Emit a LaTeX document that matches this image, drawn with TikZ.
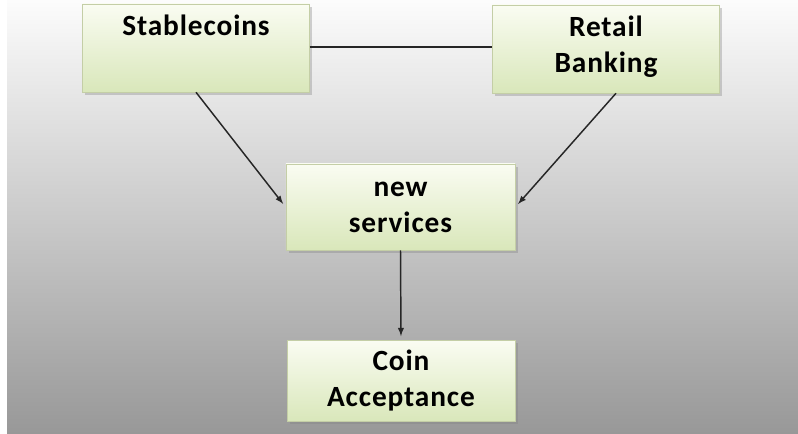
\documentclass[tikz,border=0pt]{standalone}
\usepackage{fontspec}
\setmainfont{Carlito}[LetterSpace=3]
\usetikzlibrary{shadows}

\definecolor{boxtop}{RGB}{250,252,242}
\definecolor{boxbottom}{RGB}{217,231,186}
\definecolor{boxline}{RGB}{196,206,166}
\definecolor{bgtop}{RGB}{252,252,252}
\definecolor{bgmid}{RGB}{230,230,230}
\definecolor{bgbottom}{RGB}{152,152,152}
\def\boxfont{\fontsize{22}{27}\selectfont\bfseries}
\tikzstyle{topic}=[draw=boxline,rectangle,top color=boxtop,bottom color=boxbottom,
                  drop shadow={shadow xshift=2pt,shadow yshift=-2pt,opacity=0.35},
                  text=black,font=\boxfont,align=center,
                  minimum width=170pt,inner sep=0pt]
\tikzstyle{toplabel}=[font=\boxfont,align=center,inner sep=8pt]
\tikzstyle{link}=[line width=1.1pt,color=black!85]
\tikzstyle{flow}=[link,->,>=latex,shorten >=3pt]

\begin{document}
\begin{tikzpicture}[x=0.75pt,y=-0.75pt]
  \useasboundingbox (0,0) rectangle (798,434);
  % Background
  \shade[top color=bgtop,middle color=bgmid,bottom color=bgbottom]
    (7,0) rectangle (798,434);

  % Place the two top boxes, text at the top
  \node[topic,minimum height=66pt,
        label={[toplabel,anchor=north]north:Stablecoins}] (stable) at (196,48) {};
  \node[topic,minimum height=66pt,
        label={[toplabel,anchor=north]north:Retail\\Banking}] (retail) at (606,49) {};

  % Middle and bottom boxes
  \node[topic,minimum width=172pt,minimum height=64.5pt] (serv) at (400.5,207) {new\\services};
  \node[topic,minimum width=171pt,minimum height=61pt] (coin) at (401,381) {Coin\\Acceptance};

  \path[link] (stable.east |- 0,47) edge (retail.west |- 0,47);
  \path[flow] (stable.south) edge (serv.west);
  \path[flow] ([xshift=7.5pt]retail.south) edge (serv.east);
  \path[flow] (serv.south) edge (coin.north);

\end{tikzpicture}
\end{document}
